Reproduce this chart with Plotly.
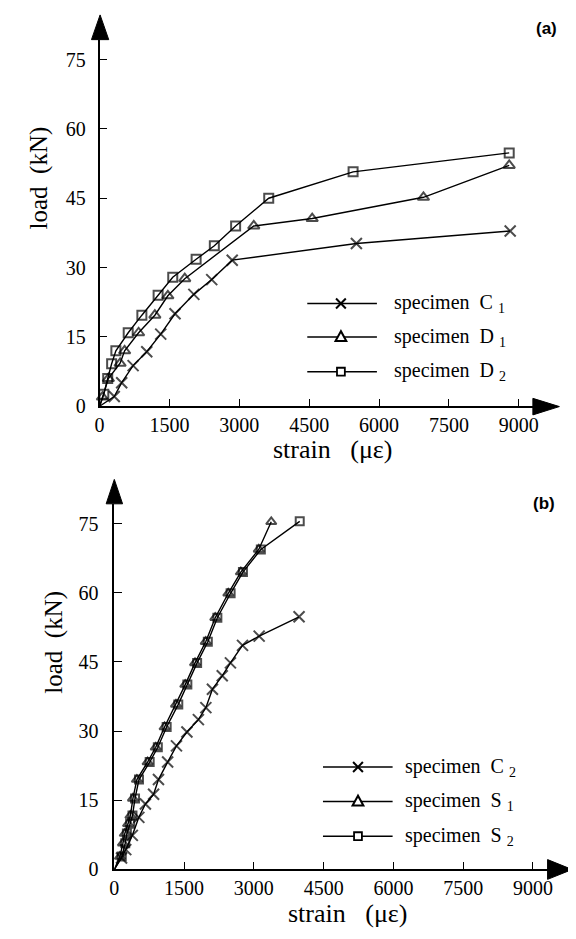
import plotly.graph_objects as go

W, H = 576, 939

# ---------------- data (strain in micro-strain, load in kN) ----------------
# panel (a)
C1_strain = [0, 314, 474, 719, 1012, 1312, 1619, 2023, 2407, 2847, 5513, 8815]
C1_load = [0, 2.1, 5.1, 8.8, 11.8, 15.6, 20.0, 24.2, 27.4, 31.6, 35.2, 37.9]

D1_strain = [0, 60, 188, 440, 537, 837, 1186, 1465, 1828, 3310, 4564, 6953, 8794]
D1_load = [0, 2.0, 6.0, 9.3, 12.0, 15.9, 19.7, 23.9, 27.6, 39.0, 40.6, 45.2, 52.1]

D2_strain = [0, 90, 174, 258, 349, 614, 907, 1256, 1570, 2072, 2463, 2920, 3631, 5442, 8794]
D2_load = [0, 2.6, 6.0, 9.2, 12.0, 15.9, 19.7, 24.0, 27.9, 31.8, 34.7, 39.0, 45.0, 50.7, 54.8]

# panel (b)
C2_strain = [0, 155, 246, 387, 527, 668, 844, 949, 1146, 1336, 1561, 1807, 1968, 2109,
             2320, 2496, 2756, 3114, 3972]
C2_load = [0, 2.5, 4.3, 7.4, 11.3, 14.2, 16.3, 19.5, 23.3, 26.8, 29.8, 32.5, 35.1, 39.1,
           42.0, 44.8, 48.6, 50.6, 54.8]

S1_strain = [0, 120, 185, 225, 295, 345, 400, 485, 715, 890, 1080, 1325, 1525, 1735,
             1965, 2170, 2450, 2720, 3105, 3374]
S1_load = [0, 2.8, 5.7, 7.8, 9.9, 11.7, 15.4, 19.5, 23.3, 26.5, 30.9, 35.8, 40.1, 44.8,
           49.4, 54.6, 59.9, 64.5, 69.4, 75.4]

S2_strain = [0, 160, 235, 270, 340, 390, 445, 530, 760, 935, 1125, 1375, 1570, 1780,
             2010, 2215, 2500, 2765, 3150, 3986]
S2_load = [0, 2.8, 5.7, 7.8, 9.9, 11.7, 15.4, 19.5, 23.3, 26.5, 30.9, 35.8, 40.1, 44.8,
           49.4, 54.6, 59.9, 64.5, 69.4, 75.5]

x_ticks = [0, 1500, 3000, 4500, 6000, 7500, 9000]
y_ticks = [0, 15, 30, 45, 60, 75]

names_a = ["C", "D", "D"]
subs_a = ["1", "1", "2"]
names_b = ["C", "S", "S"]
subs_b = ["2", "1", "2"]

SERIF = "Liberation Serif"
SANS = "Liberation Sans"

def px(x):
    return x / W

def py(y):
    return 1 - y / H

fig = go.Figure()

def add_series(xs, ys, symbol, size, xa, ya):
    sizes = [0] + [size] * (len(xs) - 1)
    fig.add_trace(go.Scatter(
        x=xs, y=ys, mode="lines+markers", xaxis=xa, yaxis=ya,
        line=dict(color="black", width=1.4),
        marker=dict(symbol=symbol, size=sizes, color="black",
                    line=dict(color="black", width=2)),
        cliponaxis=False, showlegend=False, hoverinfo="skip"))

add_series(C1_strain, C1_load, "x-thin-open", 11, "x", "y")
add_series(D1_strain, D1_load, "triangle-up-open", 10, "x", "y")
add_series(D2_strain, D2_load, "square-open", 9, "x", "y")

add_series(C2_strain, C2_load, "x-thin-open", 11, "x2", "y2")
add_series(S1_strain, S1_load, "triangle-up-open", 9, "x2", "y2")
add_series(S2_strain, S2_load, "square-open", 8, "x2", "y2")

axis_common = dict(showline=True, linecolor="black", linewidth=1.5, ticks="inside",
                   ticklen=8, tickwidth=1.3, tickcolor="black", showgrid=False,
                   zeroline=False, tickfont=dict(family=SERIF, size=20, color="black"))

fig.update_layout(
    width=W, height=H, margin=dict(l=0, r=0, t=0, b=0),
    paper_bgcolor="white", plot_bgcolor="white",
    xaxis=dict(domain=[px(88.3), px(530)], range=[0, 9302], tickvals=x_ticks,
               anchor="y", **axis_common),
    yaxis=dict(domain=[py(403), py(32)], range=[0, 79.3], tickvals=y_ticks,
               anchor="x", ticklabelstandoff=8, **axis_common),
    xaxis2=dict(domain=[px(103.3), px(545)], range=[0, 9315], tickvals=x_ticks,
                anchor="y2", **axis_common),
    yaxis2=dict(domain=[py(871.7), py(501.7)], range=[0, 79.3], tickvals=y_ticks,
                anchor="x2", ticklabelstandoff=10, **axis_common),
)

shapes = []
def tri(points):
    path = "M " + " L ".join(f"{px(a):.5f},{py(b):.5f}" for a, b in points) + " Z"
    shapes.append(dict(type="path", path=path, xref="paper", yref="paper",
                       fillcolor="black", line=dict(color="black", width=1)))

# axis arrowheads
tri([(88.8, 7), (80, 32), (97.6, 32)])
tri([(557, 403.3), (530, 395), (530, 411.7)])
tri([(103.3, 477), (95, 501.7), (111.7, 501.7)])
tri([(570, 871.7), (545, 861.7), (545, 881.7)])

annotations = []

def legend(x0, x1, xm, xt, ys, names, subs):
    syms = ["x", "tri", "sq"]
    for y, nm, sb, s in zip(ys, names, subs, syms):
        shapes.append(dict(type="line", xref="paper", yref="paper",
                           x0=px(x0), x1=px(x1), y0=py(y), y1=py(y),
                           line=dict(color="black", width=1.5)))
        if s == "x":
            d = 5
            for a, b in [((xm - d, y - d), (xm + d, y + d)), ((xm - d, y + d), (xm + d, y - d))]:
                shapes.append(dict(type="line", xref="paper", yref="paper",
                                   x0=px(a[0]), y0=py(a[1]), x1=px(b[0]), y1=py(b[1]),
                                   line=dict(color="black", width=2)))
        elif s == "tri":
            pts = [(xm, y - 6), (xm - 5.5, y + 4), (xm + 5.5, y + 4)]
            path = "M " + " L ".join(f"{px(a):.5f},{py(b):.5f}" for a, b in pts) + " Z"
            shapes.append(dict(type="path", path=path, xref="paper", yref="paper",
                               fillcolor="white", line=dict(color="black", width=2)))
        else:
            shapes.append(dict(type="rect", xref="paper", yref="paper",
                               x0=px(xm - 4), x1=px(xm + 4), y0=py(y - 4), y1=py(y + 4),
                               fillcolor="white", line=dict(color="black", width=1.8)))
        annotations.append(dict(
            x=px(xt), y=py(y), xref="paper", yref="paper", xanchor="left", yanchor="middle",
            showarrow=False,
            text=f"specimen\u00a0\u00a0{nm}\u00a0<sub>{sb}</sub>",
            font=dict(family=SERIF, size=20, color="black")))

legend(300, 371, 334.3, 386, [299, 333, 368], names_a, subs_a)
legend(316, 387, 351.7, 398, [768, 803, 838], names_b, subs_b)

def label(x, y, text, size, family, angle=0, bold=False):
    annotations.append(dict(
        x=px(x), y=py(y), xref="paper", yref="paper", xanchor="center", yanchor="middle",
        showarrow=False, text=f"<b>{text}</b>" if bold else text, textangle=angle,
        font=dict(family=family, size=size, color="black")))

label(27, 172, "load\u00a0\u00a0(kN)", 25, SERIF, angle=-90)
label(42, 642, "load\u00a0\u00a0(kN)", 25, SERIF, angle=-90)
label(326, 447, "strain\u00a0\u00a0\u00a0(\u03bc\u03b5)", 26, SERIF)
label(341, 916, "strain\u00a0\u00a0\u00a0(\u03bc\u03b5)", 26, SERIF)
label(544, 21, "(a)", 17, SANS, bold=True)
label(541, 501, "(b)", 17, SANS, bold=True)

fig.update_layout(shapes=shapes, annotations=annotations)

fig.write_html("out.html")
